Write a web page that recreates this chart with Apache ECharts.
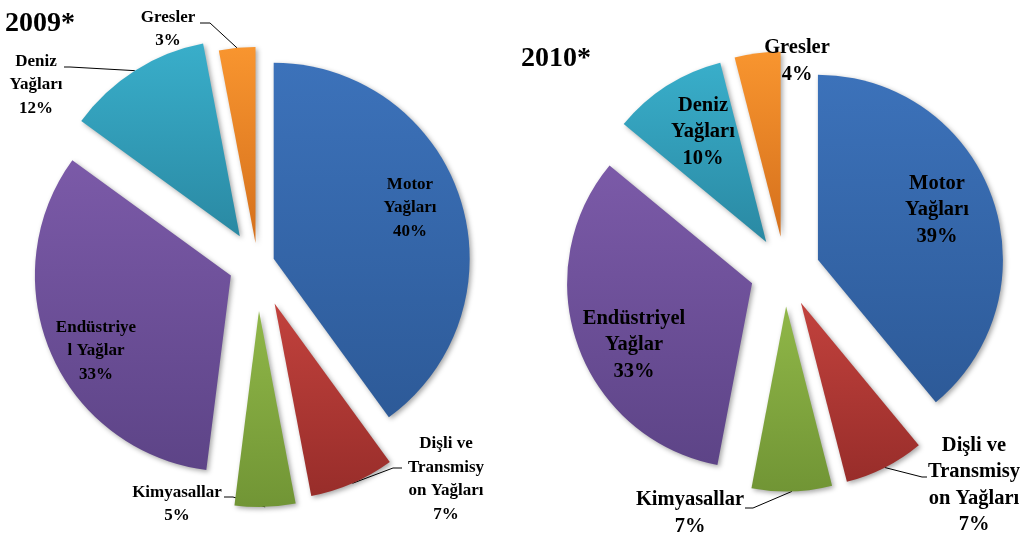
<!DOCTYPE html>
<html>
<head>
<meta charset="utf-8">
<script src="https://cdn.jsdelivr.net/npm/echarts@6/dist/echarts.min.js"></script>
<style>
  html, body { margin: 0; padding: 0; background: #fff; }
  #chart { width: 1027px; height: 537px; }
</style>
</head>
<body>
<div id="chart"></div>
<script>
// Market share of lubricant groups, 2009 vs 2010 (percent).
var categories = ['Motor Yağları', 'Dişli ve Transmisyon Yağları', 'Kimyasallar',
  'Endüstriyel Yağlar', 'Deniz Yağları', 'Gresler'];
var share2009 = [40, 7, 5, 33, 12, 3];
var share2010 = [39, 7, 7, 33, 10, 4];
// label text as wrapped in the original
var labels2009 = ['Motor\nYağları', 'Dişli ve\nTransmisy\non Yağları', 'Kimyasallar',
  'Endüstriye\nl Yağlar', 'Deniz\nYağları', 'Gresler'];
var labels2010 = ['Motor\nYağları', 'Dişli ve\nTransmisy\non Yağları', 'Kimyasallar',
  'Endüstriyel\nYağlar', 'Deniz\nYağları', 'Gresler'];
var titles = ['2009*', '2010*'];

// top / bottom gradient colour for each slice
var palette = [
  ['#3c72ba', '#2d5a98'],
  ['#c2423d', '#982d2a'],
  ['#90b748', '#719535'],
  ['#7b5aa8', '#5d4487'],
  ['#39aeca', '#2a89a3'],
  ['#f8952f', '#d5701c']
];

// layout of the two pies (pixels)
var pies = [
  {
    values: share2009, texts: labels2009, title: titles[0], titlePos: [5, 10],
    center: [257.5, 264], radius: 196, explode: [17, 43, 47, 29, 33, 21],
    fontSize: 17, lineHeight: 23.5,
    labelAt: [[410, 208], [446, 479], [177, 504], [96, 351], [36, 85], [168, 29]],
    leader: [null, [[393, 468], [402, 468]], [[233, 497], [224, 497]], null,
      [[70, 67], [64, 67]], [[210, 23], [200, 23]]]
  },
  {
    values: share2010, texts: labels2010, title: titles[1], titlePos: [521, 45],
    center: [785, 271.5], radius: 185, explode: [35, 35, 35, 35, 35, 35],
    fontSize: 20.5, lineHeight: 26.5,
    labelAt: [[937, 210], [974, 485], [690, 513], [634, 345], [703, 132], [797, 61]],
    leader: [null, [[922, 477], [927, 477]], [[753, 508], [745, 508]], null, null, null]
  }
];

function sum(arr) {
  return arr.reduce(function (a, b) { return a + b; }, 0);
}

// One pie series per visible slice, so each slice can have its own explosion.
function sliceSeries(p, k) {
  var total = sum(p.values);
  var before = sum(p.values.slice(0, k));
  var mid = (before + p.values[k] / 2) / total * 2 * Math.PI;
  var ux = Math.sin(mid), uy = -Math.cos(mid);
  var cx = p.center[0] + p.explode[k] * ux;
  var cy = p.center[1] + p.explode[k] * uy;
  var outside = p.leader[k] !== null || (p === pies[1] && k === 5);

  var data = p.values.map(function (v, i) {
    if (i !== k) {
      return {
        name: categories[i], value: v,
        itemStyle: { color: 'rgba(0,0,0,0)', borderWidth: 0, shadowBlur: 0 },
        label: { show: false }, labelLine: { show: false }
      };
    }
    return {
      name: categories[i], value: v,
      itemStyle: {
        color: {
          type: 'linear', x: 0, y: 0, x2: 0, y2: 1,
          colorStops: [
            { offset: 0, color: palette[i][0] },
            { offset: 1, color: palette[i][1] }
          ]
        },
        borderWidth: 0,
        shadowBlur: 5, shadowOffsetX: 2, shadowOffsetY: 2,
        shadowColor: 'rgba(0,0,0,0.35)'
      },
      label: {
        show: true,
        position: outside ? 'outside' : 'inside',
        formatter: p.texts[i] + '\n' + v + '%'
      },
      labelLine: { show: p.leader[k] !== null }
    };
  });

  return {
    type: 'pie',
    center: [cx, cy],
    radius: [0, p.radius],
    startAngle: 90,
    clockwise: true,
    silent: true,
    animation: false,
    avoidLabelOverlap: false,
    label: {
      fontFamily: 'Liberation Serif',
      fontWeight: 'bold',
      fontSize: p.fontSize,
      lineHeight: p.lineHeight,
      color: '#000',
      align: 'center'
    },
    labelLine: { lineStyle: { color: '#000', width: 1 } },
    emphasis: { disabled: true },
    data: data,
    labelLayout: function (params) {
      if (params.dataIndex !== k) return {};
      var out = {
        x: p.labelAt[k][0], y: p.labelAt[k][1],
        align: 'center', verticalAlign: 'middle'
      };
      if (p.leader[k]) {
        out.labelLinePoints = [
          [cx + p.radius * ux, cy + p.radius * uy],
          p.leader[k][0], p.leader[k][1]
        ];
      }
      return out;
    }
  };
}

var series = [];
pies.forEach(function (p) {
  p.values.forEach(function (v, k) {
    series.push(sliceSeries(p, k));
  });
});

var chart = echarts.init(document.getElementById('chart'), null, { renderer: 'canvas' });
chart.setOption({
  animation: false,
  backgroundColor: '#fff',
  title: pies.map(function (p) {
    return {
      text: p.title, left: p.titlePos[0], top: p.titlePos[1], padding: 0,
      textStyle: { fontFamily: 'Liberation Serif', fontWeight: 'bold', fontSize: 28, color: '#000' }
    };
  }),
  series: series
});
</script>
</body>
</html>
